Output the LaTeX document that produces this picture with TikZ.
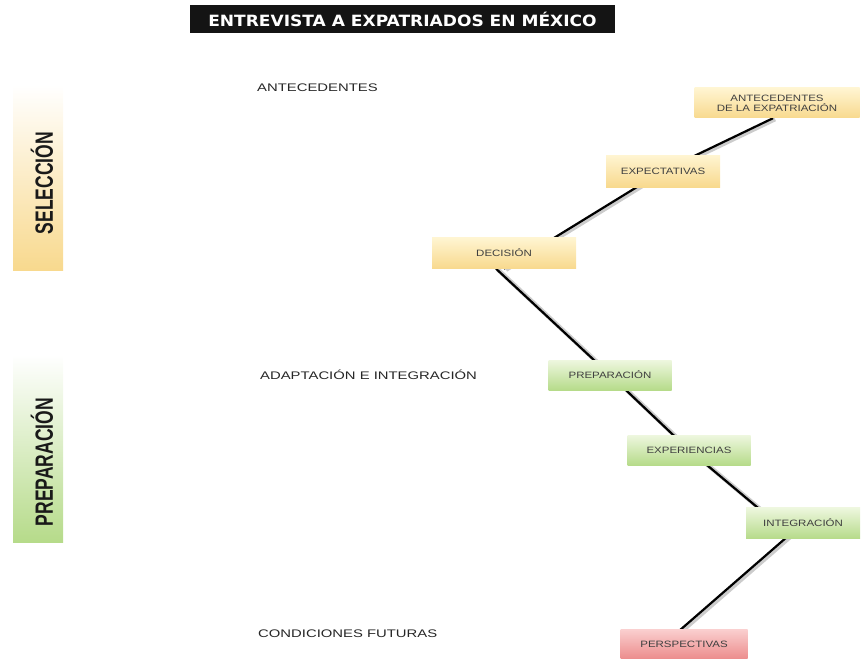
\documentclass[tikz,border=0pt]{standalone}
\usepackage{fontspec}
\setmainfont{Liberation Sans}
\newfontfamily\anchafont[FakeStretch=1.35]{Liberation Sans}
\newfontfamily\cajafont[FakeStretch=1.25]{Liberation Sans}
\newfontfamily\titulofont[FakeStretch=1.1]{DejaVu Sans}
\newfontfamily\estrechafont[FakeStretch=0.7]{Liberation Sans}
\usetikzlibrary{calc}
\usetikzlibrary{positioning}
\usetikzlibrary{backgrounds}

\definecolor{amarilloA}{HTML}{FFF5D2}
\definecolor{amarilloB}{HTML}{F8D98E}
\definecolor{verdeA}{HTML}{EEF7DF}
\definecolor{verdeB}{HTML}{B6DB8A}
\definecolor{rojoA}{HTML}{FAD0D0}
\definecolor{rojoB}{HTML}{EC8C8C}

\tikzset{
  etapa/.style={rectangle, inner sep=0pt, minimum height=30pt, align=center,
    font=\cajafont\fontsize{9.2}{10}\selectfont, text=black!75},
  amarilla/.style={etapa, top color=amarilloA, bottom color=amarilloB},
  verde/.style={etapa, top color=verdeA, bottom color=verdeB},
  roja/.style={etapa, top color=rojoA, bottom color=rojoB},
  fase/.style={anchor=west, inner sep=0pt, font=\anchafont\fontsize{11}{12}\selectfont, text=black!85},
  barra/.style={rectangle, inner sep=0pt, minimum width=50pt},
  bloque/.style={rotate=90, inner sep=0pt, font=\estrechafont\bfseries\fontsize{25}{25}\selectfont, text=black!90},
  enlace/.style={line width=2.2pt, black,
    preaction={draw=black!20, line width=4.4pt, transform canvas={shift={(2pt,-1pt)}}}}
}

\begin{document}
\begin{tikzpicture}[x=1pt, y=-1pt]
  \useasboundingbox (0,0) rectangle (861,658);

  \node[fill=black!92, minimum width=425pt, minimum height=28pt, inner sep=0pt,
    text=white, font=\titulofont\bfseries\fontsize{15.5}{16}\selectfont] (titulo) at (402.5,19)
    {ENTREVISTA A EXPATRIADOS EN MÉXICO};

  % barras laterales
  \node[barra, minimum height=185pt, top color=white, bottom color=amarilloB] (selbar) at (38,177.5) {};
  \node[barra, minimum height=187pt, top color=white, bottom color=verdeB] (prebar) at (38,448.5) {};
  \node[bloque] (sel) at (42,183) {SELECCIÓN};
  \node[bloque] (pre) at (42,462) {PREPARACIÓN};

  % fases
  \node[fase] (fant) at (257,88) {ANTECEDENTES};
  \node[fase] (fada) at (260,375) {ADAPTACIÓN E INTEGRACIÓN};
  \node[fase] (fcon) at (258,634) {CONDICIONES FUTURAS};

  % etapas
  \node[amarilla, minimum width=165pt] (ant) at (777,103) {ANTECEDENTES\\DE LA EXPATRIACIÓN};
  \node[amarilla, minimum width=114pt, minimum height=32pt] (expc) at (663,171) {EXPECTATIVAS};
  \node[amarilla, minimum width=144pt, minimum height=31pt] (dec) at (504,253) {DECISIÓN};
  \node[verde, minimum width=123pt] (prep) at (610,375) {PREPARACIÓN};
  \node[verde, minimum width=123pt] (expr) at (689,450) {EXPERIENCIAS};
  \node[verde, minimum width=114pt, minimum height=31pt] (integ) at (803,523) {INTEGRACIÓN};
  \node[roja, minimum width=127pt] (persp) at (684,644) {PERSPECTIVAS};

  \begin{scope}[on background layer]
    \draw[enlace] ($(ant.south)+(-4,0)$) -- (expc.center);
    \draw[enlace] (expc.center) -- (dec.south);
    \draw[enlace] ($(dec.south)+(-8,0)$) -- (prep.center);
    \draw[enlace] (prep.center) -- (expr.center);
    \draw[enlace] (expr.center) -- ($(integ.center)+(-27,0)$);
    \draw[enlace] (integ.center) -- ($(persp.center)+(-20,0)$);
  \end{scope}
\end{tikzpicture}
\end{document}
